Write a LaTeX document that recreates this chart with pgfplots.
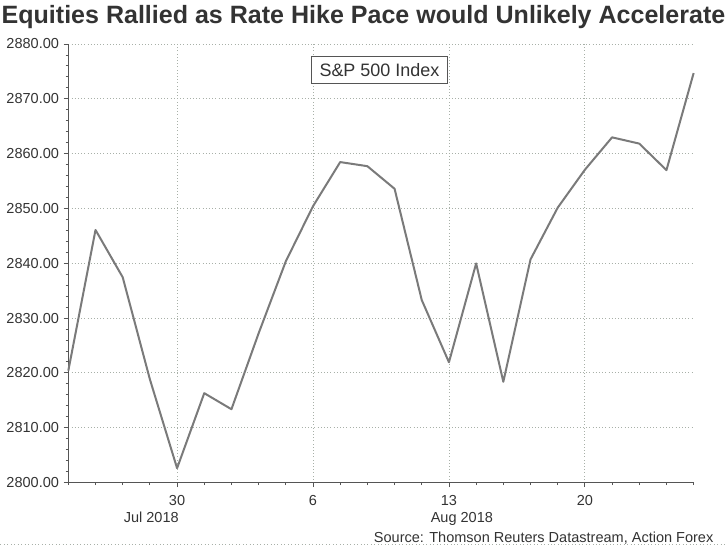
\documentclass[border=0pt]{standalone}
\usepackage{fontspec}
\setmainfont{Liberation Sans}
\usepackage{pgfplots}
\pgfplotsset{compat=1.18}
\definecolor{txt}{HTML}{333333}
\definecolor{axline}{HTML}{555555}
\definecolor{series}{HTML}{7A7A7A}
\definecolor{gridc}{HTML}{A8B0A8}

\begin{document}
\begin{tikzpicture}[x=0.75pt,y=0.75pt]
  \begin{axis}[
    at={(0,0)}, anchor=south west,
    scale only axis,
    width=469.5pt, height=329.25pt,
    xmin=0, xmax=23,
    ymin=2800, ymax=2880,
    axis x line*=bottom,
    axis y line*=left,
    axis line style={axline, line width=0.9pt, -},
    xtick={4,9,14,19},
    xticklabels={30,6,13,20},
    minor xtick={0,...,23},
    ytick={2800,2810,...,2880},
    minor y tick num=4,
    tick align=outside,
    major tick length=3.5pt,
    minor tick length=2pt,
    tick style={axline, line width=0.6pt},
    xmajorgrids=true,
    ymajorgrids=true,
    major grid style={gridc, dotted, line width=0.6pt},
    clip=false,
    tick label style={font=\fontsize{10.9}{12}\selectfont, text=txt},
    xticklabel style={yshift=-2.5pt},
    /pgf/number format/.cd, fixed, fixed zerofill, precision=2, 1000 sep={},
    assume math mode=true,
  ]
    \addplot [series, line width=1.5pt, line join=round] table {
      x  y
      0  2820.40
      1  2846.07
      2  2837.44
      3  2818.82
      4  2802.60
      5  2816.29
      6  2813.36
      7  2827.22
      8  2840.35
      9  2850.40
      10 2858.45
      11 2857.70
      12 2853.58
      13 2833.28
      14 2821.93
      15 2839.96
      16 2818.37
      17 2840.69
      18 2850.13
      19 2857.05
      20 2862.96
      21 2861.82
      22 2856.98
      23 2874.69
    };
  \end{axis}
  % title, month labels, source, legend box (coordinates in px from the axis origin)
  \node[anchor=base west, inner sep=0, text=txt, font=\fontsize{18.8}{20}\selectfont\bfseries]
    at (-67,459) {Equities Rallied as Rate Hike Pace would Unlikely Accelerate};
  \node[anchor=base, inner sep=0, text=txt, font=\fontsize{10.9}{12}\selectfont] at (83,-40) {Jul 2018};
  \node[anchor=base, inner sep=0, text=txt, font=\fontsize{10.9}{12}\selectfont] at (394,-40) {Aug 2018};
  \node[anchor=base east, inner sep=0, text=txt, font=\fontsize{10.9}{12}\selectfont] at (646,-60) {Source: Thomson Reuters Datastream, Action Forex};
  \node[draw=axline, fill=white, line width=0.75pt, minimum width=102.75pt, minimum height=20.25pt,
        inner sep=0, text=txt, font=\fontsize{13.5}{15}\selectfont] at (311.5,412.5) {S\&P 500 Index};
  \draw[gridc, dotted, line width=0.6pt] (-68,-62) -- (659,-62);
  \useasboundingbox (-68,-63) rectangle (659,483);
\end{tikzpicture}
\end{document}
